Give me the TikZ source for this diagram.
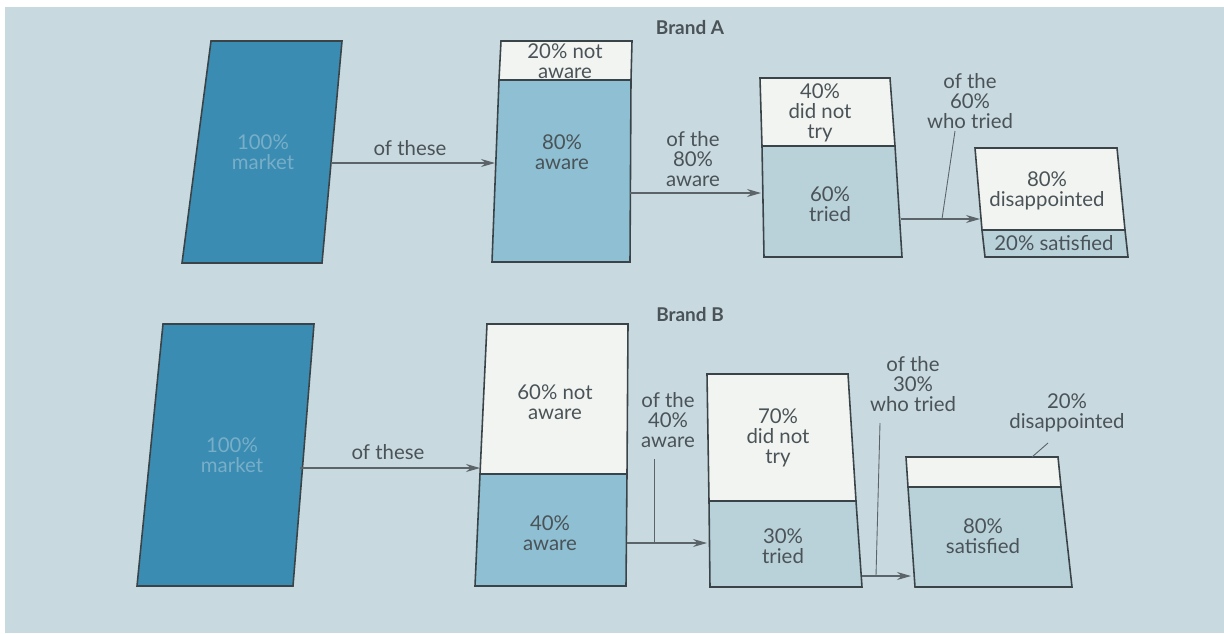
\documentclass[tikz,border=0pt]{standalone}
\usepackage{fontspec}
\setmainfont{Lato}
\usepackage{xcolor}
\definecolor{fbpaper}{HTML}{C8D9DF}
\definecolor{fbmarket}{HTML}{3A8CB2}
\definecolor{fbmkttext}{HTML}{78AEC8}
\definecolor{fbaware}{HTML}{8EBFD2}
\definecolor{fbtried}{HTML}{B9D1D9}
\definecolor{fbblank}{HTML}{F2F4F1}
\definecolor{fbink}{HTML}{3A4448}
\definecolor{fbtext}{HTML}{4A5357}
\definecolor{fbarrow}{HTML}{5B6468}
\usepackage{tikz}
\usetikzlibrary{arrows.meta}

\begin{document}
\begin{tikzpicture}[x=0.02cm, y=-0.02cm,
  part/.style={draw=fbink, line width=0.9pt},
  mkt/.style={part, fill=fbmarket},
  blank/.style={part, fill=fbblank},
  aware/.style={part, fill=fbaware},
  tried/.style={part, fill=fbtried},
  lbl/.style={align=center, font=\fontsize{11.6}{11.2}\selectfont, text=fbtext, inner sep=1pt},
  mktlbl/.style={lbl, text=fbmkttext},
  title/.style={font=\fontsize{10.8}{12}\selectfont\bfseries, text=fbtext},
  arr/.style={-{Stealth[length=2.8mm,width=1.6mm]}, line width=0.6pt, draw=fbarrow},
  lead/.style={line width=0.5pt, draw=fbarrow}
]
  \useasboundingbox (0,0) rectangle (1224,633);
  \fill[fbpaper] (5,7) rectangle (1224,633);

  % Brand A
  \node[title] (titA) at (690,28) {Brand A};

  \draw[mkt] (211,41) -- (342,41) -- (322,263) -- (182,263) -- cycle;
  \node[mktlbl] (mktA) at (263,152) {100\%\\market};

  \draw[blank] (501,41) -- (632,41) -- (631,80) -- (499,80) -- cycle;
  \draw[aware] (499,80) -- (631,80) -- (630,262) -- (492,262) -- cycle;
  \node[lbl] (notawA) at (565,61) {20\% not\\aware};
  \node[lbl] (awA) at (562,152) {80\%\\aware};

  \draw[blank] (760,78) -- (890,78) -- (895,146) -- (762,146) -- cycle;
  \draw[tried] (762,146) -- (895,146) -- (902,257) -- (764,257) -- cycle;
  \node[lbl] (notryA) at (820,113) {40\%\\did not\\try};
  \node[lbl] (tryA) at (830,204) {60\%\\tried};

  \draw[blank] (975,148) -- (1117,148) -- (1125,230) -- (982,230) -- cycle;
  \draw[tried] (982,230) -- (1125,230) -- (1128,257) -- (985,257) -- cycle;
  \node[lbl] (disA) at (1047,191) {80\%\\disappointed};
  \node[lbl] (satA) at (1054,243) {20\% satisfied};

  \coordinate (mktA-e) at (331,163);
  \coordinate (awA-w) at (495,163);
  \coordinate (awA-e) at (630,193);
  \coordinate (tryA-w) at (761,193);
  \coordinate (tryA-e) at (901,219);
  \coordinate (satA-w) at (980,219);
  \coordinate (legA-top) at (955,131);
  \coordinate (legA-bot) at (942,219);

  \node[lbl] (ofA1) at (410,148) {of these};
  \node[lbl] (ofA2) at (693,159) {of the\\80\%\\aware};
  \node[lbl] (ofA3) at (970,101) {of the\\60\%\\who tried};

  \draw[arr] (mktA-e) -- (awA-w);
  \draw[arr] (awA-e) -- (tryA-w);
  \draw[arr] (tryA-e) -- (satA-w);
  \draw[lead] (legA-top) -- (legA-bot);

  % Brand B
  \node[title] (titB) at (690,315) {Brand B};

  \draw[mkt] (163,324) -- (314,324) -- (293,586) -- (137,586) -- cycle;
  \node[mktlbl] (mktB) at (232,455) {100\%\\market};

  \draw[blank] (487,324) -- (628,324) -- (627,474) -- (480,474) -- cycle;
  \draw[aware] (480,474) -- (627,474) -- (626,586) -- (475,586) -- cycle;
  \node[lbl] (notawB) at (555,402) {60\% not\\aware};
  \node[lbl] (awB) at (550,533) {40\%\\aware};

  \draw[blank] (707,374) -- (848,374) -- (856,501) -- (709,501) -- cycle;
  \draw[tried] (709,501) -- (856,501) -- (862,587) -- (710,587) -- cycle;
  \node[lbl] (notryB) at (778,438) {70\%\\did not\\try};
  \node[lbl] (tryB) at (783,546) {30\%\\tried};

  \draw[blank] (906,457) -- (1058,457) -- (1061,487) -- (908,487) -- cycle;
  \draw[tried] (908,487) -- (1061,487) -- (1072,587) -- (915,587) -- cycle;
  \node[lbl] (satB) at (983,536) {80\%\\satisfied};
  \node[lbl] (disB) at (1067,413) {20\%\\disappointed};

  \coordinate (mktB-e) at (300,468);
  \coordinate (awB-w) at (480,468);
  \coordinate (awB-e) at (627,543);
  \coordinate (tryB-w) at (707,543);
  \coordinate (tryB-e) at (862,576);
  \coordinate (satB-w) at (911,576);
  \coordinate (legB1-top) at (654,459);
  \coordinate (legB1-bot) at (654,543);
  \coordinate (legB2-top) at (880,423);
  \coordinate (legB2-bot) at (876,576);
  \coordinate (legB3-top) at (1048,443);
  \coordinate (legB3-bot) at (1032,457);

  \node[lbl] (ofB1) at (388,452) {of these};
  \node[lbl] (ofB2) at (668,420) {of the\\40\%\\aware};
  \node[lbl] (ofB3) at (913,384) {of the\\30\%\\who tried};

  \draw[arr] (mktB-e) -- (awB-w);
  \draw[arr] (awB-e) -- (tryB-w);
  \draw[arr] (tryB-e) -- (satB-w);
  \draw[lead] (legB1-top) -- (legB1-bot);
  \draw[lead] (legB2-top) -- (legB2-bot);
  \draw[lead] (legB3-top) -- (legB3-bot);
\end{tikzpicture}
\end{document}
